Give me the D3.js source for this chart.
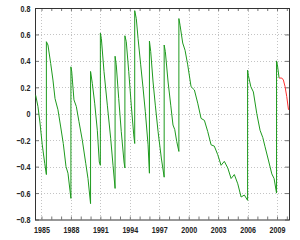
<!DOCTYPE html>
<html>
<head>
<meta charset="utf-8">
<script src="https://cdn.jsdelivr.net/npm/d3@7"></script>
<style>
    body { margin: 0; background: #fff; }
    text { font-family: "Liberation Sans", Arial, sans-serif; font-size: 9.5px; font-weight: bold; fill: #222; }
</style>
</head>
<body>
<svg id="chart" width="300" height="240"></svg>
<script>

// observed values (jumps are two points at the same date)
var obsYears = [
    1984.41, 1984.64, 1984.85, 1985.08, 1985.33, 1985.5,
    1985.5, 1985.66, 1985.94, 1986.17, 1986.38, 1986.68, 1986.96, 1987.22, 1987.5, 1987.7, 1988.0,
    1988.0, 1988.08, 1988.31, 1988.55, 1988.82, 1989.16, 1989.51, 1989.74, 1990.0,
    1990.0, 1990.18, 1990.42, 1990.69, 1990.89, 1991.0,
    1991.0, 1991.1, 1991.37, 1991.71, 1992.05, 1992.29, 1992.5,
    1992.5, 1992.62, 1992.87, 1993.13, 1993.41, 1993.5,
    1993.5, 1993.64, 1993.89, 1994.15, 1994.4, 1994.5,
    1994.5, 1994.66, 1994.84, 1995.11, 1995.35, 1995.58, 1995.86, 1996.0,
    1996.0, 1996.13, 1996.37, 1996.6, 1996.88, 1997.21, 1997.5,
    1997.5, 1997.62, 1997.9, 1998.17, 1998.4, 1998.58, 1998.78, 1999.0,
    1999.0, 1999.12, 1999.39, 1999.63, 1999.9, 2000.24, 2000.58, 2000.92, 2001.26, 2001.6, 2001.94,
    2002.28, 2002.61, 2002.96, 2003.3, 2003.63, 2003.98, 2004.32, 2004.65, 2005.0, 2005.34, 2005.67, 2006.0,
    2006.0, 2006.08, 2006.33, 2006.59, 2006.94, 2007.27, 2007.55, 2007.78, 2008.12, 2008.47, 2008.7, 2008.95,
    2008.95, 2009.04, 2009.21
];
var obsValues = [
    0.14, 0.055, -0.07, -0.235, -0.375, -0.46,
    0.545, 0.52, 0.38, 0.255, 0.115, 0.03, -0.1, -0.225, -0.4, -0.45, -0.64,
    0.355, 0.32, 0.105, 0.055, -0.06, -0.2, -0.375, -0.49, -0.68,
    0.32, 0.23, 0.08, -0.125, -0.365, -0.39,
    0.61, 0.57, 0.32, 0.065, -0.185, -0.39, -0.565,
    0.435, 0.37, 0.115, -0.135, -0.365, -0.41,
    0.59, 0.545, 0.32, 0.065, -0.16, -0.225,
    0.78, 0.72, 0.57, 0.37, 0.195, 0.015, -0.235, -0.45,
    0.55, 0.47, 0.24, 0.065, -0.135, -0.335, -0.48,
    0.52, 0.47, 0.24, 0.065, -0.085, -0.12, -0.21, -0.285,
    0.72, 0.67, 0.535, 0.48, 0.37, 0.205, 0.18, 0.08, -0.035, -0.05, -0.135,
    -0.235, -0.245, -0.31, -0.39, -0.36, -0.41, -0.49, -0.46, -0.53, -0.63, -0.615, -0.655,
    0.33, 0.29, 0.205, 0.165, 0.0, -0.125, -0.18, -0.25, -0.35, -0.455, -0.49, -0.6,
    0.40, 0.37, 0.27
];

// predicted tail
var predYears = [2009.21, 2009.49, 2009.65, 2009.82, 2009.99, 2010.17];
var predValues = [0.27, 0.27, 0.255, 0.205, 0.13, 0.03];

var xMajorTicks = [1985, 1988, 1991, 1994, 1997, 2000, 2003, 2006, 2009];
var xMinorTicks = d3.range(1985, 2011);
var yTicks = [-0.8, -0.6, -0.4, -0.2, 0, 0.2, 0.4, 0.6, 0.8];

var svg = d3.select("#chart");

// plot box
var plotL = 35, plotR = 289, plotT = 8, plotB = 219.5;
var squeeze = 0.75; // narrow the labels like the original font

var x = d3.scaleLinear().domain([1984.34, 2010.22]).range([plotL, plotR]);
var y = d3.scaleLinear().domain([-0.8, 0.8]).range([plotB, plotT]);

// grid
var grid = svg.append("g")
    .attr("stroke", "#c4c4c4")
    .attr("stroke-dasharray", "1,2");

grid.selectAll("line.gx")
    .data(xMajorTicks)
    .enter()
    .append("line")
    .attr("x1", function (d) { return Math.round(x(d)) + 0.5; })
    .attr("x2", function (d) { return Math.round(x(d)) + 0.5; })
    .attr("y1", plotT)
    .attr("y2", plotB);

grid.selectAll("line.gy")
    .data(yTicks.slice(1, -1))
    .enter()
    .append("line")
    .attr("x1", plotL)
    .attr("x2", plotR)
    .attr("y1", function (d) { return Math.round(y(d)) + 0.5; })
    .attr("y2", function (d) { return Math.round(y(d)) + 0.5; });

// axes
var xAxis = d3.axisBottom(x)
    .tickValues(xMinorTicks)
    .tickSizeInner(-3)
    .tickSizeOuter(0)
    .tickPadding(7)
    .tickFormat(function (d) { return xMajorTicks.indexOf(d) >= 0 ? d : ""; });

var xTop = d3.axisTop(x)
    .tickValues(xMinorTicks)
    .tickSizeInner(-3)
    .tickSizeOuter(0)
    .tickFormat("");

var yAxis = d3.axisLeft(y)
    .tickValues(yTicks)
    .tickSizeInner(-4)
    .tickSizeOuter(0)
    .tickPadding(6)
    .tickFormat(function (d) { return d === 0 ? "0" : d3.format(".1f")(d); });

var yRight = d3.axisRight(y)
    .tickValues(yTicks)
    .tickSizeInner(-4)
    .tickSizeOuter(0)
    .tickFormat("");

function styleAxis(g) {
    g.attr("font-family", null).attr("font-size", null);
    g.select(".domain").remove();
    g.selectAll(".tick line").attr("stroke", "#777");
    g.selectAll(".tick text")
        .attr("fill", "#222")
        .attr("transform", "scale(" + squeeze + ",1)");
}

svg.append("g").attr("transform", "translate(0," + plotB + ")").call(xAxis).call(styleAxis);
svg.append("g").attr("transform", "translate(0," + plotT + ")").call(xTop).call(styleAxis);
svg.append("g").attr("transform", "translate(" + plotL + ",0)").call(yAxis).call(styleAxis);
svg.append("g").attr("transform", "translate(" + plotR + ",0)").call(yRight).call(styleAxis);

// frame
svg.append("rect")
    .attr("x", plotL + 0.5)
    .attr("y", plotT + 0.5)
    .attr("width", plotR - plotL)
    .attr("height", plotB - plotT)
    .attr("fill", "none")
    .attr("stroke", "#333");

var line = d3.line()
    .x(function (d) { return x(d[0]); })
    .y(function (d) { return y(d[1]); });

svg.append("path")
    .datum(obsYears.map(function (t, i) { return [t, obsValues[i]]; }))
    .attr("fill", "none")
    .attr("stroke", "#1e9a1e")
    .attr("stroke-width", 1)
    .attr("d", line);

svg.append("path")
    .datum(predYears.map(function (t, i) { return [t, predValues[i]]; }))
    .attr("fill", "none")
    .attr("stroke", "#ff3030")
    .attr("stroke-width", 1)
    .attr("d", line);

</script>
</body>
</html>
